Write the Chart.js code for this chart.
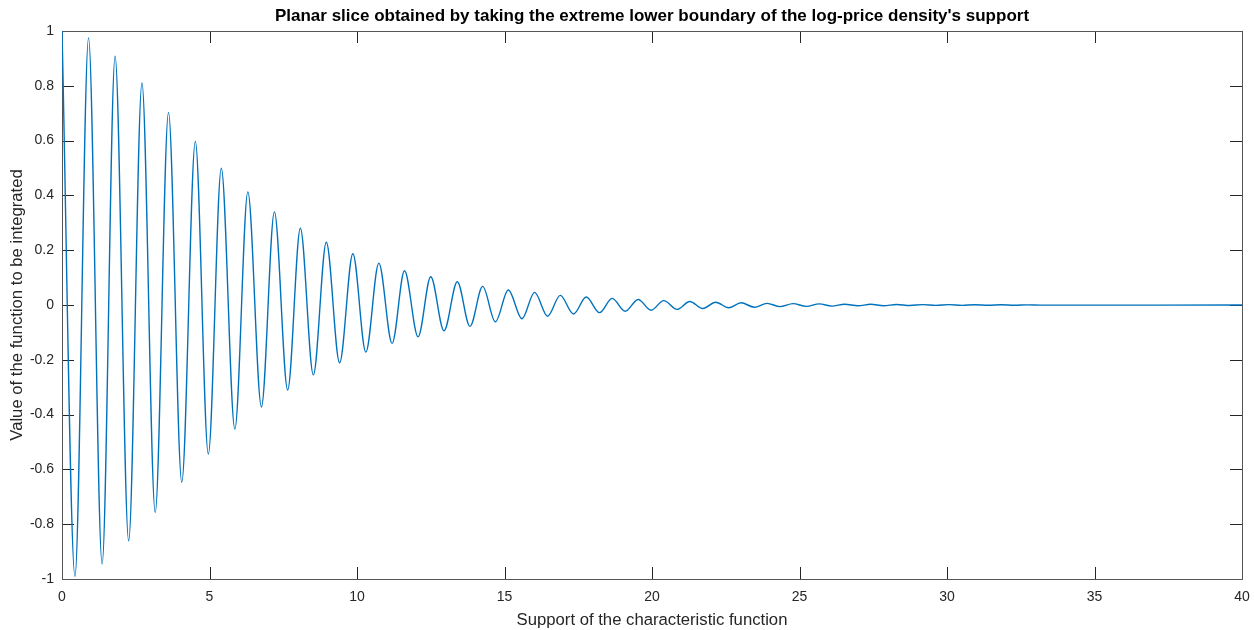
<!DOCTYPE html>
<html>
<head>
<meta charset="utf-8">
<title>Planar slice</title>
<script src="https://cdn.jsdelivr.net/npm/chart.js@4.4.1/dist/chart.umd.min.js"></script>
<style>
  html, body { margin: 0; padding: 0; background: #fff; }
  canvas { display: block; }
</style>
</head>
<body>
<canvas id="chart" width="1254" height="630"></canvas>
<script>
// local extrema of the curve (x = support, y = value)
const extremaX = [
  0, 0.44, 0.90, 1.36, 1.80, 2.26, 2.71, 3.16, 3.61, 4.06,
  4.52, 4.96, 5.40, 5.86, 6.30, 6.76, 7.20, 7.65, 8.08, 8.52,
  8.96, 9.41, 9.86, 10.30, 10.74, 11.19, 11.61, 12.07, 12.50, 12.95,
  13.40, 13.83, 14.26, 14.69, 15.13, 15.59, 16.02, 16.46, 16.89, 17.34,
  17.77, 18.22, 18.65, 19.09, 19.53, 19.97, 20.40, 20.85, 21.28, 21.72,
  22.16, 22.60, 23.02, 23.47, 23.90, 24.34, 24.78, 25.23, 25.67, 26.10,
  26.53, 26.98, 27.41, 27.85, 28.29, 28.74, 29.18, 29.62, 30.07, 30.51,
  30.95, 31.40, 31.84, 32.28, 32.73, 33.17, 40
];
const extremaY = [
  1.0, -0.99, 0.975, -0.945, 0.908, -0.861, 0.81, -0.757, 0.703, -0.647,
  0.597, -0.544, 0.499, -0.453, 0.413, -0.372, 0.340, -0.310, 0.280, -0.255,
  0.229, -0.211, 0.187, -0.172, 0.153, -0.140, 0.125, -0.116, 0.103, -0.094,
  0.085, -0.078, 0.068, -0.061, 0.055, -0.050, 0.046, -0.041, 0.035, -0.033,
  0.029, -0.028, 0.024, -0.023, 0.020, -0.019, 0.016, -0.016, 0.013, -0.013,
  0.010, -0.010, 0.008, -0.008, 0.006, -0.006, 0.005, -0.005, 0.004, -0.004,
  0.003, -0.003, 0.0025, -0.0025, 0.002, -0.002, 0.0015, -0.0015, 0.0012, -0.0012,
  0.001, -0.001, 0.0008, -0.0008, 0.0006, -0.0006, 0
];

const xTicks = [0, 5, 10, 15, 20, 25, 30, 35, 40];
const yTicks = [-1, -0.8, -0.6, -0.4, -0.2, 0, 0.2, 0.4, 0.6, 0.8, 1];

const axisColor = '#262626';
const fontFamily = '"Liberation Sans", Arial, Helvetica, sans-serif';

// box round the axes with inward tick marks (matlab look)
const frameTicks = {
  id: 'frameTicks',
  beforeDatasetsDraw(chart) {
    const { ctx, chartArea: a, scales: { x, y } } = chart;
    const len = 12;
    ctx.save();
    ctx.strokeStyle = axisColor;
    ctx.lineWidth = 1;
    ctx.beginPath();
    xTicks.forEach(v => {
      const px = Math.round(x.getPixelForValue(v)) + 0.5;
      ctx.moveTo(px, a.bottom); ctx.lineTo(px, a.bottom - len);
      ctx.moveTo(px, a.top); ctx.lineTo(px, a.top + len);
    });
    yTicks.forEach(v => {
      const py = Math.round(y.getPixelForValue(v)) + 0.5;
      ctx.moveTo(a.left, py); ctx.lineTo(a.left + len, py);
      ctx.moveTo(a.right, py); ctx.lineTo(a.right - len, py);
    });
    ctx.stroke();
    ctx.strokeStyle = '#555';
    ctx.strokeRect(Math.round(a.left) + 0.5, Math.round(a.top) + 0.5,
      Math.round(a.right - a.left), Math.round(a.bottom - a.top));
    ctx.restore();
  }
};

new Chart(document.getElementById('chart'), {
  type: 'line',
  data: {
    datasets: [{
      data: extremaX.map((x, i) => ({ x: x, y: extremaY[i] })),
      borderColor: '#0072BD',
      borderWidth: 1.4,
      pointRadius: 0,
      fill: false,
      cubicInterpolationMode: 'monotone'
    }]
  },
  options: {
    responsive: false,
    animation: false,
    devicePixelRatio: 1,
    layout: { padding: { left: 0, right: 12, top: 0, bottom: 0 } },
    plugins: {
      legend: { display: false },
      tooltip: { enabled: false },
      title: {
        display: true,
        fullSize: false,
        text: "Planar slice obtained by taking the extreme lower boundary of the log-price density's support",
        color: '#000',
        font: { family: fontFamily, size: 17, weight: 'bold' },
        padding: { top: 6, bottom: 4.6 }
      }
    },
    scales: {
      x: {
        type: 'linear',
        min: 0,
        max: 40,
        afterFit: (s) => { s.height = 51; },
        afterBuildTicks: (s) => { s.ticks = xTicks.map(v => ({ value: v })); },
        grid: { display: false },
        border: { display: false },
        ticks: {
          color: axisColor,
          padding: 2,
          maxRotation: 0,
          font: { family: fontFamily, size: 14 },
          callback: (v) => String(v)
        },
        title: {
          display: true,
          text: 'Support of the characteristic function',
          color: axisColor,
          font: { family: fontFamily, size: 16.7 },
          padding: { top: 0, bottom: 0 }
        }
      },
      y: {
        type: 'linear',
        min: -1,
        max: 1,
        afterFit: (s) => { s.width = 62; },
        afterBuildTicks: (s) => { s.ticks = yTicks.map(v => ({ value: v })); },
        grid: { display: false },
        border: { display: false },
        ticks: {
          color: axisColor,
          padding: 0,
          font: { family: fontFamily, size: 14 },
          callback: (v) => String(Math.round(v * 10) / 10)
        },
        title: {
          display: true,
          text: 'Value of the function to be integrated',
          color: axisColor,
          font: { family: fontFamily, size: 16.7 },
          padding: { top: 7, bottom: 0 }
        }
      }
    }
  },
  plugins: [frameTicks]
});
</script>
</body>
</html>
